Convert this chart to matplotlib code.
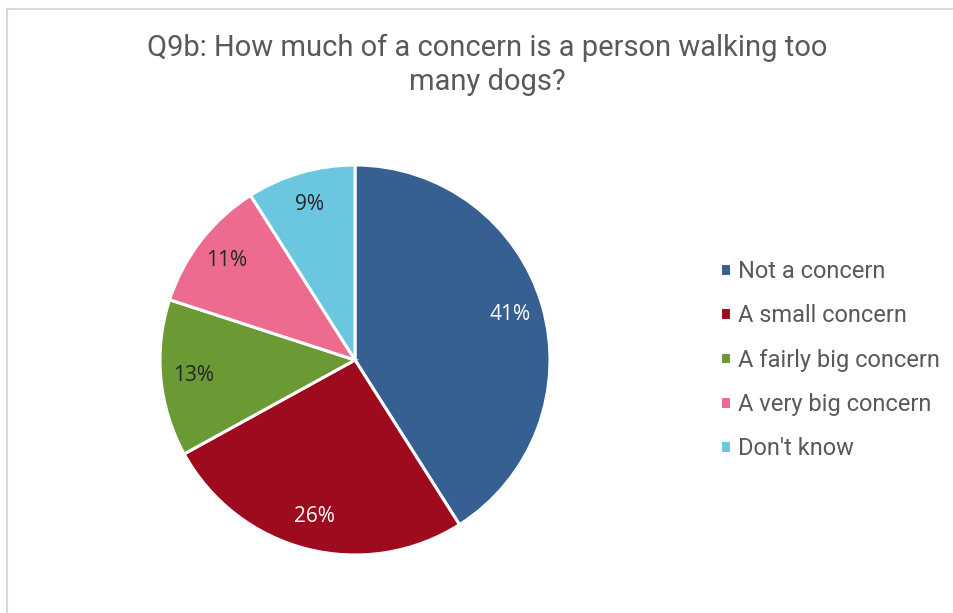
import matplotlib.pyplot as plt
from matplotlib.lines import Line2D

categories = ["Not a concern", "A small concern", "A fairly big concern",
              "A very big concern", "Don't know"]
values = [41, 26, 13, 11, 9]
colors = ["#366092", "#9e0b1e", "#6b9a35", "#ec6b8f", "#6bc7e0"]
label_colors = ["white", "white", "#262626", "#262626", "#262626"]

fig = plt.figure(figsize=(9.54, 6.13), dpi=100)
W, H = 954, 613

# chart border (light grey, left and top visible)
fig.add_artist(Line2D([7 / W, 7 / W], [0, 1 - 8.5 / H], color="#d9d9d9", lw=1.5,
                      transform=fig.transFigure))
fig.add_artist(Line2D([7 / W, 1], [1 - 8.5 / H, 1 - 8.5 / H], color="#d9d9d9", lw=1.5,
                      transform=fig.transFigure))

fig.text(487 / W, 1 - 65 / H, "Q9b: How much of a concern is a person walking too\nmany dogs?",
         ha="center", va="center", fontsize=21, color="#595959", family="Roboto",
         linespacing=1.25)

cx, cy, r = 355, 360, 195
ax = fig.add_axes([(cx - r) / W, (H - cy - r) / H, 2 * r / W, 2 * r / H])
wedges, texts, autotexts = ax.pie(values, colors=colors, startangle=90, counterclock=False,
                                  autopct="%d%%", pctdistance=0.83,
                                  wedgeprops=dict(edgecolor="white", linewidth=2.2))
for t, c in zip(autotexts, label_colors):
    t.set_color(c)
    t.set_fontsize(15)
    t.set_family("Open Sans")
ax.set_xlim(-1, 1)
ax.set_ylim(-1, 1)
ax.set_aspect("equal")

fig.legend(wedges, categories, loc="upper left", bbox_to_anchor=(720 / W, 1 - 260 / H),
           frameon=False, borderpad=0, borderaxespad=0,
           handlelength=0.45, handleheight=0.45, handletextpad=0.3,
           labelspacing=0.9, prop=dict(family="Roboto", size=17), labelcolor="#595959")

fig.savefig("out.png", dpi=100)
